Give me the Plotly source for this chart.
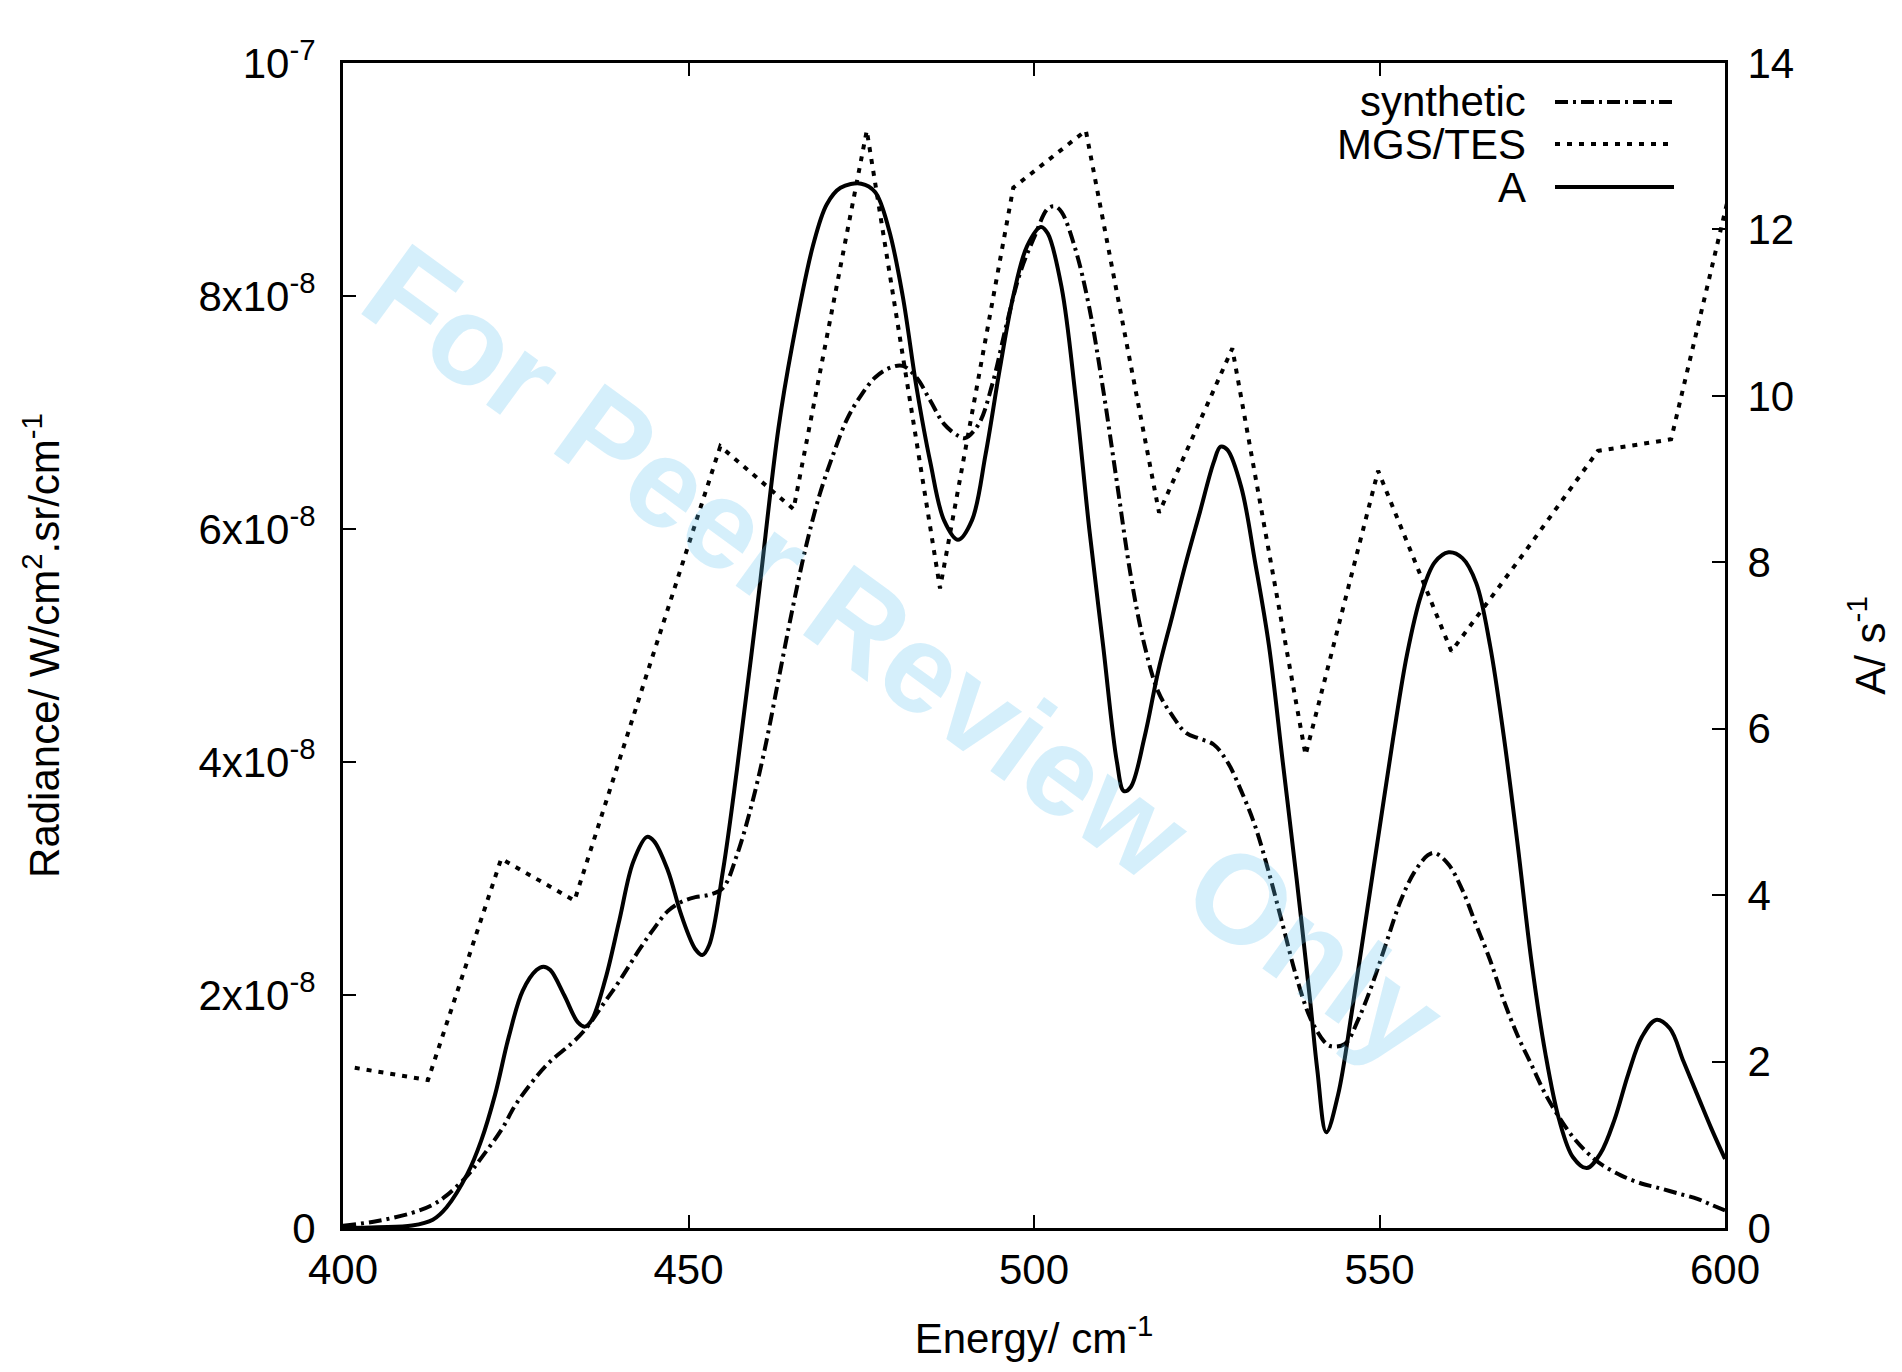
import plotly.graph_objects as go

# ---- data ----
mgs_x = [401.7, 412.3, 422.9, 433.5, 444.0, 454.6, 465.2, 475.8, 486.4, 497.0, 507.5,
         518.1, 528.7, 539.3, 549.8, 560.4, 571.0, 581.6, 592.2, 602.7]
mgs_y = [1.375e-8, 1.27e-8, 3.17e-8, 2.81e-8, 4.76e-8, 6.71e-8, 6.17e-8, 9.42e-8, 5.49e-8,
         8.93e-8, 9.42e-8, 6.14e-8, 7.55e-8, 4.06e-8, 6.50e-8, 4.95e-8, 5.80e-8, 6.67e-8,
         6.77e-8, 9.40e-8]

syn_x = [400, 405, 410, 413, 415, 418, 420, 423, 425, 428, 430, 433, 435, 438, 440, 443, 445,
         447, 449, 451, 453, 455, 457, 459, 461, 463, 465, 467, 469, 471, 473, 475, 477, 479,
         481, 483, 485, 487, 489, 490, 492, 494, 496, 498, 500, 502, 503, 504, 506, 508, 510,
         512, 514, 516, 518, 520, 522, 524, 526, 528, 530, 532, 534, 536, 538, 540, 542, 543,
         545, 547, 549, 551, 553, 555, 557, 558, 560, 562, 564, 566, 568, 570, 572, 574, 576,
         578, 580, 582, 585, 588, 590, 593, 596, 598, 600]
syn_y_e8 = [0.02, 0.06, 0.13, 0.2, 0.28, 0.45, 0.6, 0.85, 1.06, 1.3, 1.43, 1.58, 1.7, 1.95,
            2.12, 2.4, 2.57, 2.72, 2.8, 2.84, 2.86, 2.92, 3.2, 3.6, 4.1, 4.7, 5.3, 5.85, 6.3,
            6.65, 6.95, 7.15, 7.3, 7.38, 7.4, 7.3, 7.1, 6.9, 6.8, 6.78, 6.9, 7.25, 7.75, 8.2,
            8.5, 8.75, 8.77, 8.72, 8.4, 7.9, 7.2, 6.4, 5.6, 5.0, 4.6, 4.4, 4.25, 4.2, 4.15,
            4.0, 3.75, 3.45, 3.05, 2.6, 2.15, 1.8, 1.6, 1.56, 1.58, 1.8, 2.1, 2.45, 2.8, 3.05,
            3.2, 3.22, 3.12, 2.9, 2.6, 2.3, 1.95, 1.65, 1.4, 1.15, 0.95, 0.78, 0.65, 0.55,
            0.45, 0.38, 0.35, 0.3, 0.25, 0.2, 0.15]

a_x = [400, 405, 410, 413, 415, 418, 420, 422, 424, 426, 428, 429, 430, 432, 434, 435, 436,
       438, 440, 442, 444, 445, 447, 449, 451, 452, 453, 455, 457, 460, 463, 465, 468, 470,
       472, 475, 477, 479, 481, 483, 485, 487, 489, 491, 493, 495, 497, 499, 501, 502, 504,
       506, 508, 510, 512, 513, 514, 516, 518, 520, 522, 524, 526, 527, 528, 530, 532, 534,
       536, 538, 540, 541, 542.3, 544, 546, 548, 550, 552, 554, 556, 558, 560, 562, 564, 566,
       568, 570, 572, 574, 576, 578, 580, 582, 584, 586, 588, 590, 592, 594, 596, 598, 600]
a_y = [0.0, 0.01, 0.03, 0.1, 0.25, 0.65, 1.05, 1.6, 2.3, 2.85, 3.1, 3.14, 3.1, 2.8, 2.47,
       2.42, 2.5, 3.0, 3.7, 4.4, 4.7, 4.65, 4.3, 3.75, 3.35, 3.28, 3.4, 4.3, 5.5, 7.5, 9.6,
       10.6, 11.8, 12.3, 12.5, 12.55, 12.45, 12.0, 11.2, 10.1, 9.2, 8.5, 8.27, 8.5, 9.3, 10.3,
       11.2, 11.8, 12.03, 11.95, 11.3, 10.0, 8.4, 7.0, 5.6, 5.25, 5.3, 5.9, 6.7, 7.35, 8.0,
       8.6, 9.2, 9.39, 9.35, 8.9, 8.0, 7.0, 5.6, 4.2, 2.7, 1.9, 1.15, 1.6, 2.6, 3.7, 4.8, 5.9,
       6.9, 7.6, 8.0, 8.12, 8.05, 7.75, 7.0, 5.9, 4.6, 3.2, 2.1, 1.3, 0.85, 0.72, 0.9, 1.3,
       1.85, 2.3, 2.5, 2.4, 2.0, 1.6, 1.2, 0.83]

x_ticks = [400, 450, 500, 550, 600]
y_ticks = [0, 2e-8, 4e-8, 6e-8, 8e-8, 1e-7]
y_ticktext = ["0", "2x10<sup>-8</sup>", "4x10<sup>-8</sup>", "6x10<sup>-8</sup>",
              "8x10<sup>-8</sup>", "10<sup>-7</sup>"]
y2_ticks = [0, 2, 4, 6, 8, 10, 12, 14]

legend_names = ["synthetic", "MGS/TES", "A"]

# ---- styles / layout geometry (page pixels; figure sits at 8px body margin) ----
FONT = "Liberation Sans, Arial, Helvetica, sans-serif"
FS = 42
DOT = "5px,7px"
DASHDOT = "13px,5px,3px,5px"
OFF = 8
W, H = 1886, 1356
PL, PR, PT, PB = 343, 1725, 63, 1228  # plot area in page pixels


def px(xp):
    return (xp - PL) / (PR - PL)


def py(yp):
    return (PB - yp) / (PB - PT)


syn_y = [v * 1e-8 for v in syn_y_e8]

fig = go.Figure()
fig.add_trace(go.Scatter(x=mgs_x, y=mgs_y, mode="lines", name=legend_names[1],
                         line=dict(color="black", width=4, dash=DOT), yaxis="y"))
fig.add_trace(go.Scatter(x=syn_x, y=syn_y, mode="lines", name=legend_names[0],
                         line=dict(color="black", width=4, dash=DASHDOT, shape="spline"),
                         yaxis="y"))
fig.add_trace(go.Scatter(x=a_x, y=a_y, mode="lines", name=legend_names[2],
                         line=dict(color="black", width=4, shape="spline"), yaxis="y2"))

axis_common = dict(showgrid=False, zeroline=False, ticks="inside", ticklen=13, tickwidth=1.5,
                   tickcolor="black", linecolor="black", linewidth=3, showline=True,
                   automargin=False,
                   tickfont=dict(family=FONT, size=FS, color="black"))

fig.update_layout(
    width=W, height=H,
    margin=dict(l=PL - OFF, r=W - (PR - OFF), t=PT - OFF, b=H - (PB - OFF)),
    paper_bgcolor="white", plot_bgcolor="white",
    showlegend=False,
    font=dict(family=FONT, size=FS, color="black"),
    xaxis=dict(range=[400, 600], tickvals=x_ticks, mirror="ticks", ticklabelstandoff=3,
               title=dict(text="Energy/ cm<sup>-1</sup>", standoff=32,
                          font=dict(family=FONT, size=FS)),
               **axis_common),
    yaxis=dict(range=[0, 1e-7], tickvals=y_ticks, ticktext=y_ticktext, ticklabelstandoff=16,
               title=dict(text="Radiance/ W/cm<sup>2</sup>.sr/cm<sup>-1</sup>", standoff=126,
                          font=dict(family=FONT, size=FS)),
               **axis_common),
    yaxis2=dict(range=[0, 14], tickvals=y2_ticks, overlaying="y", side="right",
                ticklabelstandoff=11,
                title=dict(text="A/ s<sup>-1</sup>", standoff=70,
                           font=dict(family=FONT, size=FS)),
                **axis_common),
)

# watermark
fig.add_annotation(text="<b>For Peer Review Only</b>", xref="paper", yref="paper",
                   x=px(904), y=py(655),
                   showarrow=False, textangle=36,
                   font=dict(family=FONT, size=126, color="rgba(100,195,240,0.27)"))

# legend (gnuplot style: text then sample)
leg_y = [102, 144, 187]
leg_dash = [DASHDOT, DOT, "solid"]
for name, yy, dsh in zip(legend_names, leg_y, leg_dash):
    fig.add_annotation(text=name, xref="paper", yref="paper",
                       x=px(1528), y=py(yy), xanchor="right", yanchor="middle",
                       showarrow=False, font=dict(family=FONT, size=FS, color="black"))
    fig.add_shape(type="line", xref="paper", yref="paper",
                  x0=px(1555), x1=px(1674), y0=py(yy), y1=py(yy),
                  line=dict(color="black", width=4, dash=dsh))

fig.write_html("out.html")
